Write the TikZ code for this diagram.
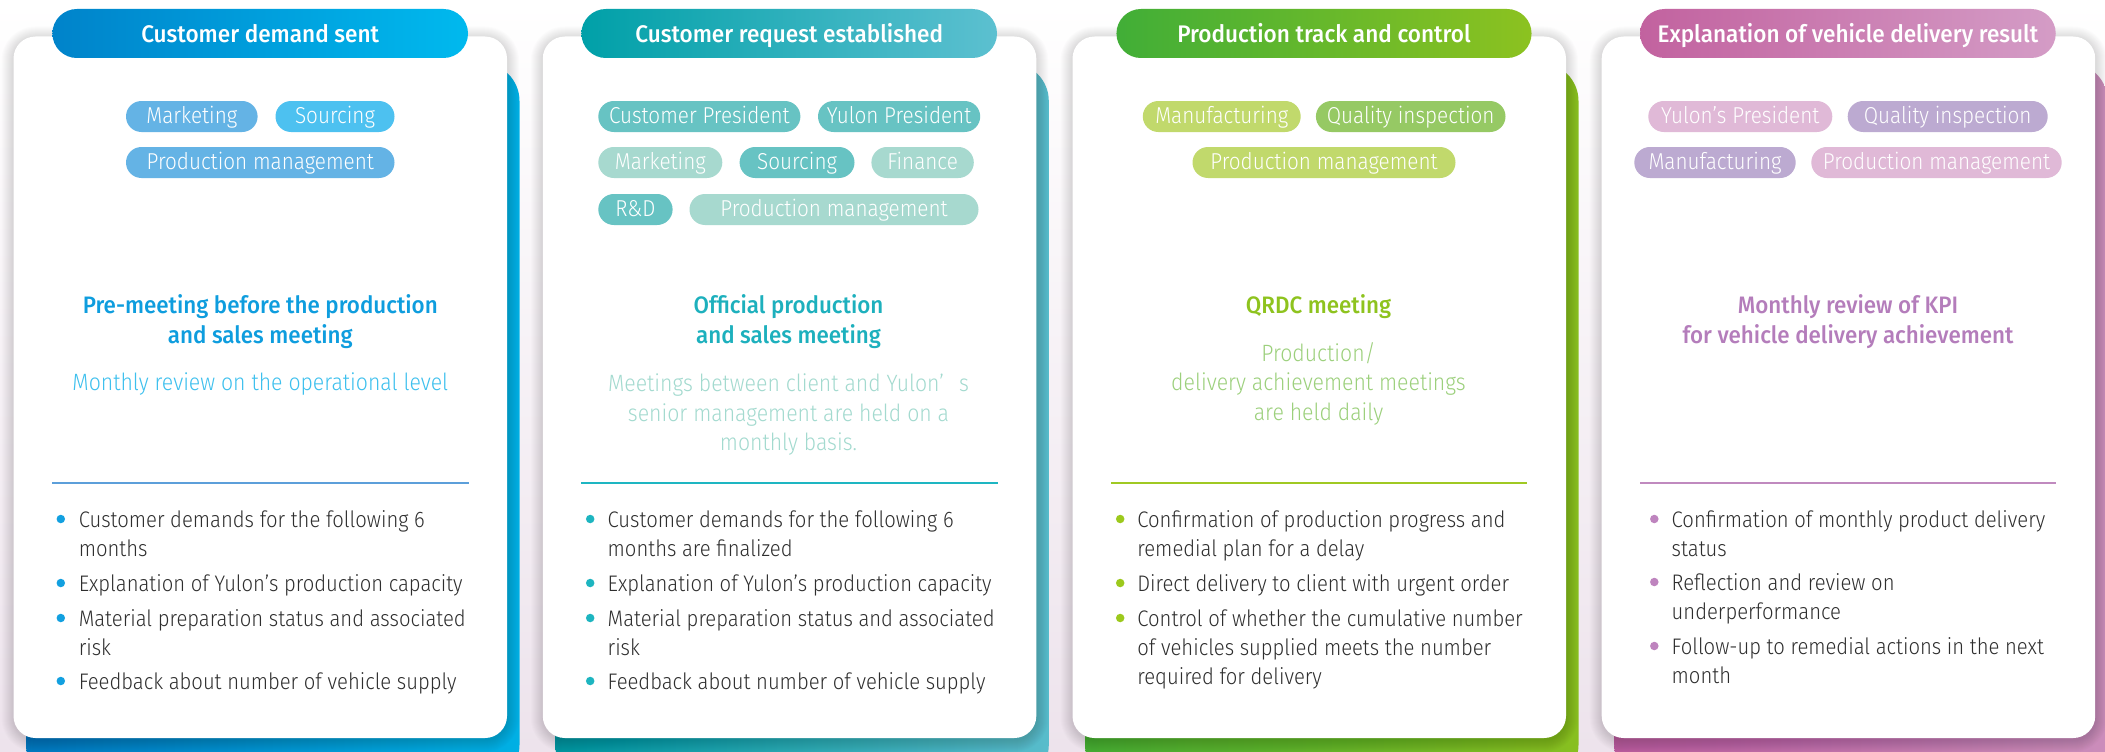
\documentclass[tikz,border=0pt]{standalone}
\usepackage{fontspec}
\setmainfont{Fira Sans}
\newfontfamily\lightfont{Fira Sans Light}[FakeStretch=0.90]
\newfontfamily\medfont{Fira Sans Medium}[FakeStretch=0.94]
\usetikzlibrary{calc}

% ---------- palette ----------
\definecolor{bodytext}{HTML}{2E2E2E}
\definecolor{bgbottom}{HTML}{EDE3EC}
% blue column
\definecolor{hdA1}{HTML}{0083CA}\definecolor{hdA2}{HTML}{00B9EE}
\definecolor{bkA1}{HTML}{0079C1}\definecolor{bkA2}{HTML}{00B0E4}
\definecolor{tgA1}{HTML}{64B3E5}\definecolor{tgA2}{HTML}{4DC1F0}
\definecolor{hlA}{HTML}{0E9DDE}\definecolor{sbA}{HTML}{3DC0EE}
\definecolor{lnA}{HTML}{5C9FDA}\definecolor{dtA}{HTML}{12A0E0}
% teal column
\definecolor{hdB1}{HTML}{00A0A8}\definecolor{hdB2}{HTML}{00B4C1}\definecolor{hdB3}{HTML}{5CC0D0}
\definecolor{bkB1}{HTML}{00959F}\definecolor{bkB2}{HTML}{11ADB8}\definecolor{bkB3}{HTML}{58BCCB}
\definecolor{tgB1}{HTML}{67C3C3}\definecolor{tgB2}{HTML}{A7D9CF}
\definecolor{hlB}{HTML}{1DB0BD}\definecolor{sbB}{HTML}{A3DACF}
\definecolor{lnB}{HTML}{1EB6C2}\definecolor{dtB}{HTML}{1DB5C0}
% green column
\definecolor{hdC1}{HTML}{41AE37}\definecolor{hdC2}{HTML}{8CC220}
\definecolor{bkC1}{HTML}{45AC33}\definecolor{bkC2}{HTML}{88BF20}
\definecolor{tgC1}{HTML}{C1D96C}\definecolor{tgC2}{HTML}{96C964}
\definecolor{hlC}{HTML}{8EC31E}\definecolor{sbC}{HTML}{9CD07C}
\definecolor{lnC}{HTML}{A0C923}\definecolor{dtC}{HTML}{9CC91C}
% pink column
\definecolor{hdD1}{HTML}{C2629F}\definecolor{hdD2}{HTML}{D49CC6}
\definecolor{bkD1}{HTML}{BA5C9C}\definecolor{bkD2}{HTML}{CB8DBB}
\definecolor{tgD1}{HTML}{E0B9D7}\definecolor{tgD2}{HTML}{BCAAD1}
\definecolor{hlD}{HTML}{B47DBB}
\definecolor{lnD}{HTML}{C08ABF}\definecolor{dtD}{HTML}{BE84BE}

\tikzset{
  every node/.style={inner sep=0pt, outer sep=0pt},
  cardbox/.style={fill=white, rounded corners=22pt, minimum width=493.5pt,
    minimum height=701.5pt, anchor=north west},
  backbox/.style={rounded corners=38pt, minimum width=493.5pt,
    minimum height=720pt, anchor=north west},
  headpill/.style={rounded corners=24.5pt, minimum height=49pt, text=white,
    text height=22pt, text depth=3pt, font=\medfont\fontsize{24}{24}\selectfont},
  tagpill/.style={rounded corners=15.5pt, minimum height=31pt, text=white,
    text height=16pt, text depth=3pt, font=\lightfont\fontsize{23}{23}\selectfont},
  headline/.style={anchor=base, font=\medfont\fontsize{23.8}{23.8}\selectfont},
  subline/.style={anchor=base, font=\lightfont\fontsize{23.6}{23.6}\selectfont},
  bodyline/.style={anchor=base west, text=bodytext, font=\lightfont\fontsize{22.5}{22.5}\selectfont},
  bulletdot/.style={circle, minimum size=8.5pt},
  divider/.style={line width=2.4pt},
}

% soft halo under a white card: x, y (top left), width, height
\newcommand\cardhalo[4]{%
  \foreach \k [evaluate=\k as \rr using 22+\k] in {1,...,12}{%
    \fill[black, opacity=0.013, rounded corners=\rr pt]
      ({#1-\k},{#2-\k+2}) rectangle ({#1+#3+\k},{#2+#4+\k+2});}}

% tag pill: name, left x, right x, centre y, colour, text
\newcommand\tagat[6]{%
  \node[tagpill, fill=#5, minimum width={(#3)-(#2)}] (#1) at ({((#2)+(#3))/2},#4) {#6};}

\begin{document}
\begin{tikzpicture}[x=1pt, y=-1pt]
\useasboundingbox (0,0) rectangle (2105,752);
\clip (0,0) rectangle (2105,752);
\shade[top color=white, bottom color=bgbottom] (0,0) rectangle (2105,752);

% ---------- coloured back cards ----------
\node[backbox, left color=bkA1, right color=bkA2] (back1) at (26,63) {};
\node[backbox, left color=bkB1, middle color=bkB2, right color=bkB3] (back2) at (555.3,63) {};
\node[backbox, left color=bkC1, right color=bkC2] (back3) at (1085,63) {};
\node[backbox, left color=bkD1, right color=bkD2] (back4) at (1614.2,63) {};

% ---------- white cards ----------
\cardhalo{13.5}{36.5}{493.5}{701.5}
\cardhalo{542.8}{36.5}{493.5}{701.5}
\cardhalo{1072.5}{36.5}{493.5}{701.5}
\cardhalo{1601.7}{36.5}{493.5}{701.5}
\node[cardbox] (card1) at (13.5,36.5) {};
\node[cardbox] (card2) at (542.8,36.5) {};
\node[cardbox] (card3) at (1072.5,36.5) {};
\node[cardbox] (card4) at (1601.7,36.5) {};

% ---------- title pills ----------
\node[headpill, left color=hdA1, right color=hdA2, minimum width=415.6pt] (head1) at (260.2,33.5) {Customer demand sent};
\node[headpill, left color=hdB1, middle color=hdB2, right color=hdB3, minimum width=415.6pt] (head2) at (789.2,33.5) {Customer request established};
\node[headpill, left color=hdC1, right color=hdC2, minimum width=415.1pt] (head3) at (1324,33.5) {Production track and control};
\node[headpill, left color=hdD1, right color=hdD2, minimum width=415.7pt] (head4) at (1847.9,33.5) {Explanation of vehicle delivery result};

% ---------- participant tags ----------
\tagat{tag11}{126}{257.6}{116.5}{tgA1}{Marketing}
\tagat{tag12}{275.5}{394.5}{116.5}{tgA2}{Sourcing}
\tagat{tag13}{126}{394.5}{162.5}{tgA1}{Production management}

\tagat{tag21}{598.3}{800.4}{116.5}{tgB1}{Customer President}
\tagat{tag22}{818}{980.2}{116.5}{tgB1}{Yulon President}
\tagat{tag23}{598.3}{722.3}{162.5}{tgB2}{Marketing}
\tagat{tag24}{739.6}{854.5}{162.5}{tgB1}{Sourcing}
\tagat{tag25}{871.4}{973.8}{162.5}{tgB2}{Finance}
\tagat{tag26}{598.3}{672.6}{209.5}{tgB1}{R\&D}
\tagat{tag27}{689.5}{978.5}{209.5}{tgB2}{Production management}

\tagat{tag31}{1142.8}{1300.7}{116.5}{tgC1}{Manufacturing}
\tagat{tag32}{1315.9}{1505.5}{116.5}{tgC2}{Quality inspection}
\tagat{tag33}{1192.5}{1455.5}{162.5}{tgC1}{Production management}

\tagat{tag41}{1648.3}{1832.3}{116.5}{tgD1}{Yulon’s President}
\tagat{tag42}{1847.7}{2047.7}{116.5}{tgD2}{Quality inspection}
\tagat{tag43}{1634.3}{1795.7}{162.5}{tgD2}{Manufacturing}
\tagat{tag44}{1811.3}{2061.7}{162.5}{tgD1}{Production management}

% ---------- meeting names ----------
\node[headline, text=hlA] (mt1a) at (260.3,313) {Pre-meeting before the production};
\node[headline, text=hlA] (mt1b) at (260.3,343) {and sales meeting};
\node[subline, text=sbA] (sb1a) at (260.3,390) {Monthly review on the operational level};

\node[headline, text=hlB] (mt2a) at (788.5,313) {Official production};
\node[headline, text=hlB] (mt2b) at (788.5,343) {and sales meeting};
\node[subline, text=sbB] (sb2a) at (788.5,391) {Meetings between client and Yulon’\hspace{15pt}s};
\node[subline, text=sbB] (sb2b) at (788.5,421) {senior management are held on a};
\node[subline, text=sbB] (sb2c) at (788.5,450) {monthly basis.};

\node[headline, text=hlC] (mt3a) at (1318.5,313) {QRDC meeting};
\node[subline, text=sbC] (sb3a) at (1318.5,361) {Production/};
\node[subline, text=sbC] (sb3b) at (1318.5,390) {delivery achievement meetings};
\node[subline, text=sbC] (sb3c) at (1318.5,420) {are held daily};

\node[headline, text=hlD] (mt4a) at (1848,313) {Monthly review of KPI};
\node[headline, text=hlD] (mt4b) at (1848,343) {for vehicle delivery achievement};

% ---------- dividers ----------
\coordinate (dv1l) at (52.4,483);   \coordinate (dv1r) at (468.8,483);
\coordinate (dv2l) at (581.4,483);  \coordinate (dv2r) at (997.5,483);
\coordinate (dv3l) at (1111,483);   \coordinate (dv3r) at (1527,483);
\coordinate (dv4l) at (1640,483);   \coordinate (dv4r) at (2056,483);
\draw[divider, lnA] (dv1l) -- (dv1r);
\draw[divider, lnB] (dv2l) -- (dv2r);
\draw[divider, lnC] (dv3l) -- (dv3r);
\draw[divider, lnD] (dv4l) -- (dv4r);

% ---------- bullet lists ----------
\node[bulletdot, fill=dtA] (d11) at (60.8,519) {};
\node[bulletdot, fill=dtA] (d12) at (60.8,583) {};
\node[bulletdot, fill=dtA] (d13) at (60.8,618) {};
\node[bulletdot, fill=dtA] (d14) at (60.8,681) {};
\node[bodyline] (b11a) at (78.8,527) {Customer demands for the following 6};
\node[bodyline] (b11b) at (78.8,556) {months};
\node[bodyline] (b12a) at (78.8,591) {Explanation of Yulon’s production capacity};
\node[bodyline] (b13a) at (78.8,626) {Material preparation status and associated};
\node[bodyline] (b13b) at (78.8,655) {risk};
\node[bodyline] (b14a) at (78.8,689) {Feedback about number of vehicle supply};

\node[bulletdot, fill=dtB] (d21) at (590.2,519) {};
\node[bulletdot, fill=dtB] (d22) at (590.2,583) {};
\node[bulletdot, fill=dtB] (d23) at (590.2,618) {};
\node[bulletdot, fill=dtB] (d24) at (590.2,681) {};
\node[bodyline] (b21a) at (607.7,527) {Customer demands for the following 6};
\node[bodyline] (b21b) at (607.7,556) {months are finalized};
\node[bodyline] (b22a) at (607.7,591) {Explanation of Yulon’s production capacity};
\node[bodyline] (b23a) at (607.7,626) {Material preparation status and associated};
\node[bodyline] (b23b) at (607.7,655) {risk};
\node[bodyline] (b24a) at (607.7,689) {Feedback about number of vehicle supply};

\node[bulletdot, fill=dtC] (d31) at (1120.2,519) {};
\node[bulletdot, fill=dtC] (d32) at (1120.2,583) {};
\node[bulletdot, fill=dtC] (d33) at (1120.2,618) {};
\node[bodyline] (b31a) at (1137.4,527) {Confirmation of production progress and};
\node[bodyline] (b31b) at (1137.4,556) {remedial plan for a delay};
\node[bodyline] (b32a) at (1137.4,591) {Direct delivery to client with urgent order};
\node[bodyline] (b33a) at (1137.4,626) {Control of whether the cumulative number};
\node[bodyline] (b33b) at (1137.4,655) {of vehicles supplied meets the number};
\node[bodyline] (b33c) at (1137.4,684) {required for delivery};

\node[bulletdot, fill=dtD] (d41) at (1654.3,519) {};
\node[bulletdot, fill=dtD] (d42) at (1654.3,582) {};
\node[bulletdot, fill=dtD] (d43) at (1654.3,646) {};
\node[bodyline] (b41a) at (1671.7,527) {Confirmation of monthly product delivery};
\node[bodyline] (b41b) at (1671.7,556) {status};
\node[bodyline] (b42a) at (1671.7,590) {Reflection and review on};
\node[bodyline] (b42b) at (1671.7,619) {underperformance};
\node[bodyline] (b43a) at (1671.7,654) {Follow-up to remedial actions in the next};
\node[bodyline] (b43b) at (1671.7,683) {month};
\end{tikzpicture}
\end{document}
